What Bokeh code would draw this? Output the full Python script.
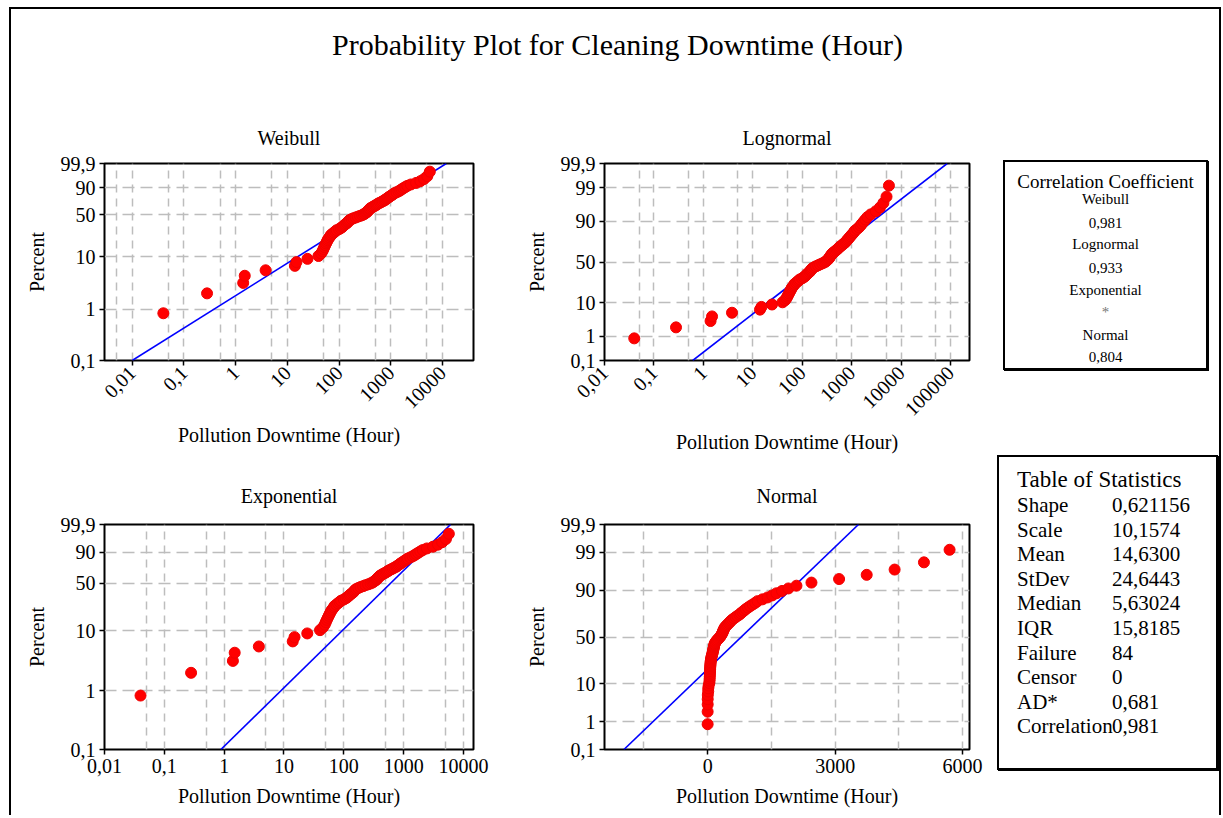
import math
import numpy as np
from bokeh.plotting import figure
from bokeh.layouts import column, row
from bokeh.models import Range1d, FixedTicker, CustomJSTickFormatter, Div
from bokeh.embed import file_html
from bokeh.resources import INLINE
from bokeh.core.properties import value

FONT = "Liberation Serif"

# ---------------- data ----------------
downtime_hours = [
    0.04, 0.28, 1.4, 1.5, 3.8, 14, 15, 24.5, 40, 45,
    48, 50, 52, 54, 56, 58, 60, 62, 65, 68,
    70, 75, 80, 85, 90, 100, 108, 115, 120, 126,
    132, 140, 146, 150, 155, 162, 175, 190, 210, 230,
    255, 280, 300, 315, 330, 345, 355, 365, 375, 390,
    400, 420, 445, 470, 500, 525, 550, 580, 620, 660,
    700, 750, 780, 820, 860, 900, 950, 1000, 1060, 1120,
    1175, 1290, 1410, 1520, 1620, 1750, 1900, 2090, 2443, 3093,
    3743, 4400, 5090, 5693,
]

# fitted distributions
weibull_shape_fit = 0.632
weibull_scale_fit = 557.0
lognormal_median_fit = 229.0
lognormal_sigma_fit = 1.918
exponential_mean_fit = 880.0
normal_mean_fit = 790.0
normal_sd_fit = 893.0

# axis ticks / labels
pct_ticks_wb = [0.1, 1, 10, 50, 90, 99.9]
pct_labels_wb = ["0,1", "1", "10", "50", "90", "99,9"]
pct_ticks_nm = [0.1, 1, 10, 50, 90, 99, 99.9]
pct_labels_nm = ["0,1", "1", "10", "50", "90", "99", "99,9"]
x_ticks_wb = [0.01, 0.1, 1, 10, 100, 1000, 10000]
x_labels_wb = ["0,01", "0,1", "1", "10", "100", "1000", "10000"]
x_ticks_ln = [0.01, 0.1, 1, 10, 100, 1000, 10000, 100000]
x_labels_ln = ["0,01", "0,1", "1", "10", "100", "1000", "10000", "100000"]
x_ticks_nm = [0, 3000, 6000]
x_labels_nm = ["0", "3000", "6000"]
x_grid_nm = [-1500, 0, 1500, 3000, 4500, 6000]

corr_header = "Correlation Coefficient"
corr_names = ["Weibull", "Lognormal", "Exponential", "Normal"]
corr_values = ["0,981", "0,933", "*", "0,804"]

stat_header = "Table of Statistics"
stat_names = ["Shape", "Scale", "Mean", "StDev", "Median", "IQR",
              "Failure", "Censor", "AD*", "Correlation"]
stat_values = ["0,621156", "10,1574", "14,6300", "24,6443", "5,63024",
               "15,8185", "84", "0", "0,681", "0,981"]

TITLE = "Probability Plot for Cleaning Downtime (Hour)"
XLABEL = "Pollution Downtime (Hour)"
YLABEL = "Percent"

# ---------------- probability scales ----------------
_erf = np.vectorize(math.erf)


def norm_ppf(p):
    p = np.atleast_1d(np.asarray(p, dtype=float))
    lo = np.full_like(p, -12.0)
    hi = np.full_like(p, 12.0)
    for _ in range(80):
        mid = 0.5 * (lo + hi)
        cdf = 0.5 * (1.0 + _erf(mid / math.sqrt(2.0)))
        below = cdf < p
        lo = np.where(below, mid, lo)
        hi = np.where(below, hi, mid)
    return 0.5 * (lo + hi)


def weib_t(p):
    p = np.atleast_1d(np.asarray(p, dtype=float))
    return np.log(-np.log(1.0 - p))


x_data = np.sort(np.asarray(downtime_hours, dtype=float))
n = len(x_data)
rank = np.arange(1, n + 1)
plot_pos = (rank - 0.3) / (n + 0.4)   # median ranks used by the plot

p_line = np.array([0.001, 0.999])


def label_formatter(tick_list, label_list):
    return CustomJSTickFormatter(
        args=dict(tvals=[float(t) for t in tick_list], tlabels=label_list),
        code="""
        for (let i = 0; i < tvals.length; i++) {
            const t = tvals[i];
            if (Math.abs(tick - t) <= 1e-6 * Math.max(1, Math.abs(t))) return tlabels[i];
        }
        return "";
        """)


def decade_grid(lo_exp, hi_exp):
    g = []
    for k in range(lo_exp, hi_exp + 1):
        g.append(5 * 10.0 ** (k - 1))
        g.append(10.0 ** k)
    return g


def make_panel(title, width, height, mbl, mbr, mbt, mbb, x_type, x_lo, x_hi,
               y_kind, x_ticks, x_labels, x_grid, rotate, fit_x, title_standoff,
               xlab_standoff):
    if y_kind == "weibull":
        tf = weib_t
        pt, pl = pct_ticks_wb, pct_labels_wb
    else:
        tf = norm_ppf
        pt, pl = pct_ticks_nm, pct_labels_nm
    y_ticks = [float(v) for v in tf(np.array(pt, dtype=float) / 100.0)]
    y_lo, y_hi = y_ticks[0], y_ticks[-1]

    p = figure(width=width, height=height, x_axis_type=x_type,
               x_range=Range1d(x_lo, x_hi), y_range=Range1d(y_lo, y_hi),
               output_backend="svg", toolbar_location=None, title=title,
               min_border_left=mbl, min_border_right=mbr,
               min_border_top=mbt, min_border_bottom=mbb)
    p.title.align = "center"
    p.title.text_font = FONT
    p.title.text_font_size = "20px"
    p.title.text_font_style = "normal"
    p.title.text_color = "black"
    p.title.standoff = title_standoff

    p.background_fill_color = "white"
    p.border_fill_color = "white"
    p.outline_line_color = "black"
    p.outline_line_width = 2
    p.outline_line_alpha = 1.0

    # grid
    p.xgrid.ticker = FixedTicker(ticks=x_grid)
    p.ygrid.ticker = FixedTicker(ticks=y_ticks)
    p.xgrid.grid_line_color = "#BDBDBD"
    p.ygrid.grid_line_color = "#BDBDBD"
    p.xgrid.grid_line_width = 1.5
    p.ygrid.grid_line_width = 1.5
    p.xgrid.grid_line_dash = "8 6"
    p.ygrid.grid_line_dash = "12 6"

    # axes
    p.xaxis.ticker = FixedTicker(ticks=x_ticks)
    p.xaxis.formatter = label_formatter(x_ticks, x_labels)
    p.yaxis.ticker = FixedTicker(ticks=y_ticks)
    p.yaxis.formatter = label_formatter(y_ticks, pl)
    if rotate:
        p.xaxis.major_label_orientation = math.pi / 4
    for ax in (p.xaxis[0], p.yaxis[0]):
        ax.axis_line_color = None
        ax.major_tick_line_color = "black"
        ax.major_tick_line_width = 1.5
        ax.major_tick_out = 5
        ax.major_tick_in = 0
        ax.minor_tick_line_color = None
        ax.major_label_text_font = FONT
        ax.major_label_text_font_size = "20px"
        ax.major_label_text_color = "black"
        ax.axis_label_text_font = FONT
        ax.axis_label_text_font_size = "20px"
        ax.axis_label_text_font_style = "normal"
        ax.axis_label_text_color = "black"
    p.xaxis.axis_label = XLABEL
    p.yaxis.axis_label = YLABEL
    p.xaxis.major_label_standoff = 4
    p.yaxis.major_label_standoff = 4
    p.xaxis.axis_label_standoff = xlab_standoff
    p.yaxis.axis_label_standoff = 10

    # fitted line then points
    p.line(fit_x, tf(p_line), line_color="#0000FF", line_width=1.6)
    p.scatter(x_data, tf(plot_pos), size=11, fill_color="#FF0000",
              line_color="#F00000", line_width=1)
    return p


# fitted line end points from the fitted distributions
fit_wb = weibull_scale_fit * (-np.log(1 - p_line)) ** (1.0 / weibull_shape_fit)
fit_ln = np.exp(np.log(lognormal_median_fit) + lognormal_sigma_fit * norm_ppf(p_line))
fit_ex = exponential_mean_fit * (-np.log(1 - p_line))
fit_nm = normal_mean_fit + normal_sd_fit * norm_ppf(p_line)

W_LEFT, W_MID, W_BOX = 479, 495, 234
H_TITLE, H_ROW1, H_ROW2 = 91, 355, 360

fW = make_panel("Weibull", W_LEFT, H_ROW1, 93, 17, 63, 95, "log", 0.00291, 39800,
                "weibull", x_ticks_wb, x_labels_wb, decade_grid(-2, 4), True, fit_wb, 30, 6)
fL = make_panel("Lognormal", W_MID, H_ROW1, 114, 16, 63, 95, "log", 0.01, 243000,
                "normal", x_ticks_ln, x_labels_ln, decade_grid(-1, 5), True, fit_ln, 30, 6)
fE = make_panel("Exponential", W_LEFT, H_ROW2, 93, 17, 69, 66, "log", 0.01, 14700,
                "weibull", x_ticks_wb, x_labels_wb, decade_grid(-1, 4), False, fit_ex, 35, 9)
fN = make_panel("Normal", W_MID, H_ROW2, 114, 16, 69, 66, "linear", -2427, 6162,
                "normal", x_ticks_nm, x_labels_nm, x_grid_nm, False, fit_nm, 35, 9)


# ---------------- text boxes (HTML text) ----------------
def line_html(txt, left, top_center, width, size, align, h=24, color="black"):
    return ('<div style="position:absolute;left:%dpx;top:%.1fpx;width:%dpx;height:%dpx;'
            'line-height:%dpx;text-align:%s;font-family:\'Liberation Serif\',serif;'
            'font-size:%s;color:%s;white-space:nowrap;">%s</div>'
            % (left, top_center - h / 2, width, h, h, align, size, color, txt))


def box_html(total_w, total_h, bx, by, bw, bh, lines):
    inner = ('<div style="position:absolute;left:%dpx;top:%dpx;width:%dpx;height:%dpx;'
             'border:2px solid black;box-sizing:border-box;box-shadow:1px 1px 0 #000;'
             'background:white;"></div>' % (bx, by, bw, bh))
    return ('<div style="position:relative;width:%dpx;height:%dpx;margin:0;padding:0;">'
            % (total_w, total_h)) + inner + "".join(lines) + "</div>"


# correlation box (row 1 starts at screen y 100, column 3 at screen x 985)
c_lines = [line_html(corr_header, 18, 81.7, 205, "19px", "center")]
for k, (nm, vl) in enumerate(zip(corr_names, corr_values)):
    c_lines.append(line_html(nm, 18, 99 + 45.3 * k, 205, "15px", "center"))
    c_lines.append(line_html(vl, 18, 123 + 44.7 * k, 205, "15px", "center",
                             color="#777777" if vl == "*" else "black"))
divC = Div(text=box_html(W_BOX, H_ROW1, 18, 60, 205, 210, c_lines),
           width=W_BOX, height=H_ROW1, styles={"margin": "0", "padding": "0"})

# statistics box (row 2 starts at screen y 455)
s_lines = [line_html(stat_header, 32, 25, 190, "23px", "left", h=28)]
for k, (nm, vl) in enumerate(zip(stat_names, stat_values)):
    s_lines.append(line_html(nm, 32, 50 + 24.6 * k, 100, "21px", "left"))
    s_lines.append(line_html(vl, 127, 50 + 24.6 * k, 100, "21px", "left"))
divS = Div(text=box_html(W_BOX, H_ROW2, 12, 0, 221, 315, s_lines),
           width=W_BOX, height=H_ROW2, styles={"margin": "0", "padding": "0"})

# ---------------- main title strip ----------------
TW = W_LEFT + W_MID + W_BOX
fT = figure(width=TW, height=H_TITLE, x_range=Range1d(0, TW), y_range=Range1d(H_TITLE, 0),
            output_backend="svg", toolbar_location=None,
            x_axis_location=None, y_axis_location=None,
            min_border_left=0, min_border_right=0, min_border_top=0, min_border_bottom=0)
fT.grid.visible = False
fT.outline_line_color = None
fT.background_fill_color = "white"
fT.border_fill_color = "white"
fT.text([606], [35], text=[TITLE], text_font=value(FONT), text_font_size="30px",
        text_align="center", text_baseline="middle", text_color="black")

layout = column(
    fT,
    row(fW, fL, divC),
    row(fE, fN, divS),
    styles={"border-left": "2px solid black", "border-top": "2px solid black",
            "border-right": "2px solid black",
            "margin-left": "9px", "margin-top": "7px"},
)

open("out.html", "w").write(file_html(layout, INLINE))
